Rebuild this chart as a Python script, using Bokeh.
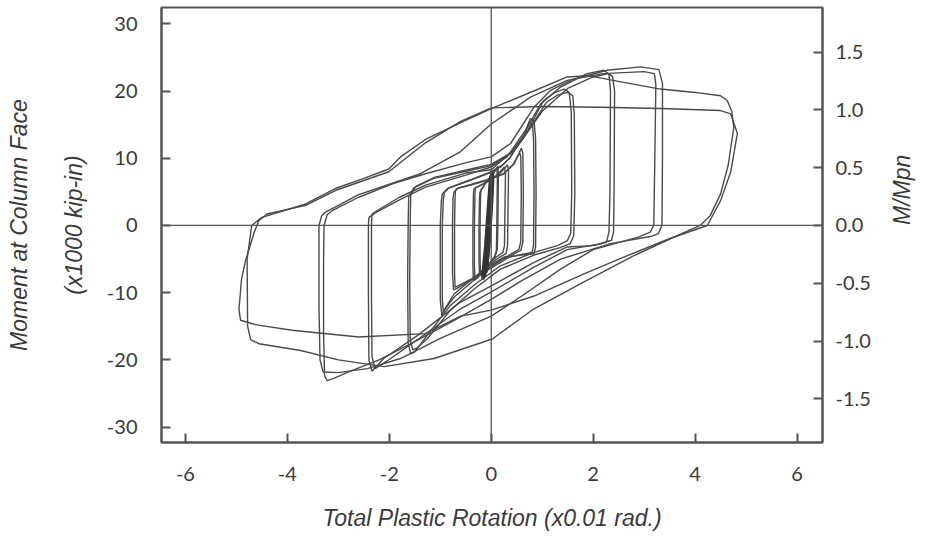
import math
from bokeh.plotting import figure
from bokeh.models import Range1d, LinearAxis, FixedTicker, PrintfTickFormatter, Span
from bokeh.embed import file_html
from bokeh.resources import INLINE

# ---------------- data ----------------
rot_ticks = [-6, -4, -2, 0, 2, 4, 6]
mom_ticks = [-30, -20, -10, 0, 10, 20, 30]
ratio_ticks = [-1.5, -1.0, -0.5, 0.0, 0.5, 1.0, 1.5]
mpn = 17.2  # x1000 kip-in, moment that gives M/Mpn = 1

# elastic cycles
rot_e1 = [-0.12, -0.08, -0.02, 0.01, 0.03, 0.01, -0.04, -0.09, -0.12]
mom_e1 = [-6.8, -2.0, 4.5, 7.8, 7.5, 3.0, -3.0, -7.0, -6.8]
rot_e2 = [-0.15, -0.10, -0.04, 0.00, 0.02, -0.01, -0.06, -0.12, -0.15]
mom_e2 = [-7.5, -2.5, 4.0, 8.0, 7.6, 2.5, -3.5, -7.6, -7.5]
rot_e3 = [-0.10, -0.06, -0.01, 0.02, 0.04, 0.02, -0.03, -0.08, -0.10]
mom_e3 = [-6.2, -1.5, 5.0, 7.6, 7.2, 3.5, -2.5, -6.4, -6.2]
rot_e4 = [-0.18, -0.12, -0.06, -0.02, 0.00, -0.03, -0.08, -0.15, -0.18]
mom_e4 = [-7.8, -3.0, 3.5, 7.4, 7.0, 2.0, -4.0, -8.0, -7.8]

# small inelastic cycles
rot_a1 = [-0.22, -0.10, 0.02, 0.10, 0.13, 0.14, 0.13, 0.12, 0.08, -0.05, -0.18, -0.23, -0.24, -0.24, -0.23, -0.22]
mom_a1 = [5.0, 6.5, 7.5, 8.5, 8.8, 7.5, 0.0, -3.5, -4.5, -5.8, -7.2, -7.4, -5.0, 0.0, 4.0, 5.0]
rot_a2 = [-0.20, -0.08, 0.02, 0.08, 0.11, 0.12, 0.11, 0.10, 0.06, -0.05, -0.16, -0.21, -0.22, -0.22, -0.21, -0.20]
mom_a2 = [5.3, 6.6, 7.4, 8.2, 8.5, 7.2, 0.0, -3.8, -4.8, -5.9, -7.0, -7.2, -5.0, 0.0, 4.2, 5.3]

rot_b1 = [-0.34, -0.20, 0.00, 0.15, 0.27, 0.32, 0.34, 0.33, 0.32, 0.29, 0.15, 0.00, -0.15, -0.30, -0.35, -0.36, -0.36, -0.35, -0.34]
mom_b1 = [5.5, 6.0, 6.8, 7.6, 8.6, 9.0, 8.0, 3.0, -3.0, -4.2, -4.8, -5.6, -6.8, -8.0, -8.2, -6.0, 0.0, 4.5, 5.5]
rot_b2 = [-0.31, -0.18, 0.00, 0.14, 0.22, 0.26, 0.28, 0.27, 0.26, 0.23, 0.10, 0.00, -0.15, -0.28, -0.32, -0.33, -0.33, -0.32, -0.31]
mom_b2 = [5.6, 6.1, 6.9, 7.7, 8.4, 8.7, 7.8, 3.0, -3.0, -4.0, -4.7, -5.4, -6.6, -7.6, -7.8, -6.0, 0.0, 4.6, 5.6]

rot_c1 = [-0.73, -0.67, -0.40, -0.08, 0.25, 0.45, 0.55, 0.59, 0.62, 0.63, 0.62, 0.58, 0.40, 0.25, -0.08, -0.41, -0.68, -0.74, -0.76, -0.76, -0.75, -0.73]
mom_c1 = [5.0, 5.5, 6.0, 6.7, 7.7, 9.2, 10.8, 11.5, 10.8, 5.0, -2.5, -3.7, -4.4, -5.2, -6.7, -8.2, -9.4, -9.6, -7.0, 0.0, 4.0, 5.0]
rot_c2 = [-0.70, -0.64, -0.40, -0.08, 0.22, 0.42, 0.52, 0.56, 0.58, 0.59, 0.58, 0.54, 0.40, 0.22, -0.08, -0.40, -0.65, -0.71, -0.72, -0.72, -0.71, -0.70]
mom_c2 = [5.2, 5.6, 6.1, 6.8, 7.6, 9.0, 10.3, 10.8, 10.2, 5.0, -2.4, -3.6, -4.2, -5.0, -6.5, -8.0, -9.0, -9.2, -7.0, 0.0, 4.2, 5.2]

rot_d1 = [-0.96, -0.86, -0.41, 0.00, 0.20, 0.38, 0.55, 0.64, 0.72, 0.77, 0.84, 0.87, 0.88, 0.87, 0.84, 0.60, 0.25, -0.08, -0.41, -0.73, -0.90, -0.97, -1.00, -1.00, -0.98, -0.96]
mom_d1 = [4.7, 5.5, 6.7, 7.9, 8.8, 10.2, 12.3, 13.1, 15.0, 15.9, 15.5, 13.0, 5.0, -3.2, -4.2, -4.4, -4.7, -6.2, -8.2, -10.2, -12.3, -13.4, -11.0, 0.0, 3.5, 4.7]
rot_d2 = [-0.92, -0.83, -0.41, 0.00, 0.20, 0.36, 0.52, 0.62, 0.70, 0.75, 0.81, 0.83, 0.84, 0.83, 0.80, 0.60, 0.25, -0.08, -0.41, -0.72, -0.88, -0.94, -0.96, -0.96, -0.94, -0.92]
mom_d2 = [4.9, 5.6, 6.8, 8.0, 8.9, 10.0, 12.0, 13.0, 14.6, 15.4, 15.1, 12.8, 5.0, -3.0, -4.0, -4.3, -4.9, -6.5, -8.6, -10.6, -12.2, -12.9, -11.0, 0.0, 3.8, 4.9]

rot_f1 = [-1.62, -1.52, -1.13, -0.47, 0.00, 0.38, 0.71, 1.03, 1.25, 1.43, 1.53, 1.57, 1.58, 1.56, 1.49, 1.30, 0.84, 0.18, -0.34, -0.80, -1.26, -1.50, -1.58, -1.63, -1.64, -1.63, -1.62]
mom_f1 = [4.3, 5.6, 7.0, 8.1, 8.9, 10.7, 14.1, 18.6, 19.8, 20.3, 19.8, 17.0, 5.0, -1.2, -2.3, -3.0, -4.0, -6.0, -8.9, -11.9, -16.4, -18.8, -19.1, -17.5, -8.0, 0.0, 4.3]
rot_f2 = [-1.58, -1.48, -1.10, -0.47, 0.00, 0.40, 0.74, 1.08, 1.30, 1.50, 1.60, 1.63, 1.64, 1.62, 1.55, 1.35, 0.84, 0.18, -0.34, -0.80, -1.26, -1.47, -1.54, -1.59, -1.60, -1.59, -1.58]
mom_f2 = [4.6, 5.8, 7.2, 8.3, 9.1, 10.9, 14.3, 18.3, 19.4, 19.8, 19.3, 16.5, 5.0, -1.5, -2.7, -3.3, -4.4, -6.5, -9.5, -12.6, -16.9, -18.3, -18.5, -17.0, -8.0, 0.0, 4.6]

rot_g1 = [-2.40, -2.27, -1.80, -1.29, -0.50, 0.00, 0.31, 0.71, 0.97, 1.36, 1.88, 2.21, 2.31, 2.34, 2.33, 2.31, 2.26, 2.00, 1.49, 0.84, 0.02, -0.60, -1.45, -2.11, -2.34, -2.40, -2.41, -2.41, -2.40]
mom_g1 = [1.2, 1.9, 3.8, 5.7, 7.5, 8.7, 10.2, 14.6, 18.1, 20.6, 22.6, 23.1, 22.5, 20.0, 5.0, -1.0, -2.5, -3.0, -3.2, -5.5, -8.9, -11.4, -16.4, -19.8, -21.7, -20.0, -10.0, 0.0, 1.2]
rot_g2 = [-2.34, -2.22, -1.80, -1.29, -0.50, 0.00, 0.50, 1.00, 1.50, 2.00, 2.30, 2.38, 2.42, 2.41, 2.40, 2.36, 2.10, 1.49, 0.84, 0.02, -0.60, -1.45, -2.05, -2.28, -2.34, -2.35, -2.35, -2.34]
mom_g2 = [1.7, 2.3, 4.2, 6.0, 7.8, 8.3, 11.6, 17.0, 20.4, 22.1, 22.6, 22.2, 20.0, 5.0, -1.0, -2.2, -2.8, -3.6, -6.2, -9.8, -12.4, -17.0, -20.2, -21.3, -19.5, -10.0, 0.0, 1.7]

rot_h1 = [-3.28, -3.22, -3.12, -2.60, -1.94, -1.29, -0.47, 0.00, 0.38, 0.84, 1.16, 1.62, 2.28, 2.93, 3.29, 3.36, 3.36, 3.35, 3.28, 3.15, 2.34, 1.36, 0.60, 0.00, -0.70, -1.50, -2.20, -2.80, -3.10, -3.22, -3.27, -3.29, -3.29, -3.28]
mom_h1 = [0.0, 1.6, 2.2, 4.2, 6.2, 7.7, 9.4, 10.2, 12.2, 17.6, 20.1, 21.8, 23.1, 23.6, 23.2, 21.1, 10.0, 0.0, -1.2, -1.6, -2.7, -5.0, -8.2, -11.0, -14.0, -17.3, -20.0, -21.8, -22.8, -23.1, -22.4, -16.0, -5.0, 0.0]
rot_h2 = [-3.38, -3.33, -3.25, -2.60, -1.39, -0.60, 0.00, 0.77, 1.49, 2.20, 3.00, 3.20, 3.23, 3.21, 3.19, 3.12, 2.90, 2.00, 1.36, 0.60, 0.00, -1.00, -1.78, -2.43, -3.00, -3.30, -3.36, -3.38, -3.38, -3.38]
mom_h2 = [0.0, 1.4, 2.0, 4.6, 7.7, 11.0, 15.1, 19.1, 21.6, 22.6, 22.9, 22.6, 21.0, 10.0, 0.0, -1.0, -1.7, -3.6, -6.5, -10.5, -13.5, -16.8, -19.8, -21.3, -21.9, -21.8, -20.0, -12.0, -4.0, 0.0]

rot_k1 = [-4.50, -3.64, -3.06, -2.50, -2.01, -1.78, -1.29, -0.60, 0.00, 0.80, 1.49, 1.90, 2.60, 3.32, 4.00, 4.50, 4.63, 4.72, 4.76, 4.65, 4.50, 4.30, 4.10, 3.45, 2.80, 1.82, 0.84, 0.02, -1.12, -2.10, -3.00, -3.74, -4.56, -4.72, -4.78, -4.79, -4.70, -4.50]
mom_k1 = [1.2, 3.2, 5.5, 7.0, 8.4, 10.2, 12.8, 15.3, 17.4, 19.9, 22.1, 22.3, 21.3, 20.3, 19.8, 19.3, 18.6, 17.0, 14.6, 9.0, 4.7, 1.5, 0.0, -2.2, -4.5, -8.4, -12.4, -16.9, -19.8, -21.0, -20.0, -18.6, -17.6, -17.0, -15.0, -5.0, 0.0, 1.2]
rot_k2 = [-4.40, -3.64, -3.06, -2.01, -1.29, -0.60, 0.00, 1.00, 2.14, 3.32, 4.50, 4.70, 4.83, 4.70, 4.50, 4.24, 3.52, 2.67, 1.82, 0.84, 0.00, -0.60, -1.29, -2.60, -3.91, -4.60, -4.92, -4.95, -4.90, -4.82, -4.65, -4.56, -4.40]
mom_k2 = [1.7, 3.0, 5.2, 8.0, 12.3, 15.5, 17.5, 17.7, 17.6, 17.4, 17.1, 16.6, 13.7, 8.0, 3.7, 0.0, -1.9, -4.5, -7.2, -10.5, -12.6, -13.5, -16.1, -16.6, -15.6, -14.8, -14.1, -12.5, -8.0, -5.2, -1.0, 0.7, 1.7]

elastic_rot = [rot_e1, rot_e2, rot_e3, rot_e4]
elastic_mom = [mom_e1, mom_e2, mom_e3, mom_e4]
cycle_rot = [rot_a1, rot_a2, rot_b1, rot_b2, rot_c1, rot_c2, rot_d1, rot_d2,
             rot_f1, rot_f2, rot_g1, rot_g2, rot_h1, rot_h2, rot_k1, rot_k2]
cycle_mom = [mom_a1, mom_a2, mom_b1, mom_b2, mom_c1, mom_c2, mom_d1, mom_d2,
             mom_f1, mom_f2, mom_g1, mom_g2, mom_h1, mom_h2, mom_k1, mom_k2]

# ---------------- figure ----------------
y_lo, y_hi = -32.3, 32.44
axis_col = "#555555"
text_col = "#3a3a3a"
line_col = "#4a4a4a"
title_font = "Liberation Sans"

p = figure(width=930, height=538, output_backend="svg", toolbar_location=None,
           x_range=Range1d(-6.47, 6.50), y_range=Range1d(y_lo, y_hi),
           min_border_left=161, min_border_right=108, min_border_top=7, min_border_bottom=96)
p.extra_y_ranges = {"ratio": Range1d(y_lo / mpn, y_hi / mpn)}
p.grid.visible = False
p.outline_line_color = axis_col
p.outline_line_width = 2
p.background_fill_color = "white"
p.border_fill_color = "white"


def style_axis(ax, ticks, fmt, standoff):
    ax.ticker = FixedTicker(ticks=ticks)
    ax.formatter = PrintfTickFormatter(format=fmt)
    ax.major_tick_in = 9
    ax.major_tick_out = 0
    ax.minor_tick_in = 0
    ax.minor_tick_out = 0
    ax.major_tick_line_color = axis_col
    ax.major_tick_line_width = 2
    ax.axis_line_color = axis_col
    ax.axis_line_width = 2
    ax.major_label_text_font = "Lato"
    ax.major_label_text_font_size = "20px"
    ax.major_label_text_color = text_col
    ax.major_label_standoff = standoff


def style_title(ax, text, standoff):
    ax.axis_label = text
    ax.axis_label_text_font = title_font
    ax.axis_label_text_font_style = "italic"
    ax.axis_label_text_font_size = "23px"
    ax.axis_label_text_color = text_col
    ax.axis_label_standoff = standoff


style_axis(p.xaxis[0], rot_ticks, "%d", 24)
style_axis(p.yaxis[0], mom_ticks, "%d", 24)
style_title(p.xaxis[0], "Total Plastic Rotation (x0.01 rad.)", 21)
style_title(p.yaxis[0], "(x1000 kip-in)", 17)

# right axis in M/Mpn
right = LinearAxis(y_range_name="ratio")
style_axis(right, ratio_ticks, "%.1f", 13)
style_title(right, "M/Mpn", 28)
try:
    right.axis_label_orientation = math.pi / 2
except Exception:
    pass
p.add_layout(right, "right")

# outer left title line (an axis with no ticks, only its title)
outer = LinearAxis(ticker=FixedTicker(ticks=[]))
outer.axis_line_color = None
outer.major_tick_line_color = None
outer.minor_tick_line_color = None
outer.major_label_text_font_size = "0px"
style_title(outer, "Moment at Column Face", 26)
p.add_layout(outer, "left")

p.add_layout(Span(location=0, dimension="width", line_color=axis_col, line_width=1.3))
p.add_layout(Span(location=0, dimension="height", line_color=axis_col, line_width=1.3))

p.multi_line(xs=cycle_rot, ys=cycle_mom, line_color=line_col, line_width=1.4)
p.multi_line(xs=elastic_rot, ys=elastic_mom, line_color="#333333", line_width=2.2)

open("out.html", "w").write(file_html(p, INLINE))
